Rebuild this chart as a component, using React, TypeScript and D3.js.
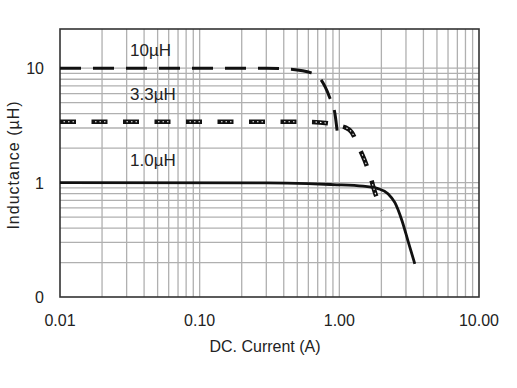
import * as d3 from "d3";
import { useEffect, useRef } from "react";

// DC current (A) vs inductance (µH)
const current10 = [0.01, 0.3, 0.44, 0.63, 0.74, 0.85, 0.93, 0.98];
const ind10 = [10, 10, 9.8, 9.1, 7.9, 5.6, 4.0, 2.35];

const current33 = [0.01, 0.58, 0.83, 0.96, 1.1, 1.23, 1.36, 1.52, 1.66, 1.8, 2.02];
const ind33 = [3.4, 3.4, 3.3, 3.16, 3.04, 2.74, 2.11, 1.56, 1.15, 0.82, 0.57];

const current10u = [0.01, 0.3, 0.6, 0.9, 1.48, 1.89, 2.23, 2.5, 2.81, 3.1, 3.47];
const ind10u = [1.0, 0.995, 0.98, 0.96, 0.93, 0.886, 0.8, 0.667, 0.464, 0.31, 0.195];

const xTicks = [0.01, 0.1, 1, 10];
const xTickLabels = ["0.01", "0.10", "1.00", "10.00"];
const yTicks = [0.1, 1, 10];
const yTickLabels = ["0", "1", "10"];

const seriesLabels = ["10µH", "3.3µH", "1.0µH"];

const W = 517;
const H = 388;
const FONT = "'Liberation Sans', Arial, sans-serif";

export default function App() {
  const svgRef = useRef<SVGSVGElement>(null);

  useEffect(() => {
    document.body.style.margin = "0";
    if (!svgRef.current) return;
    const svg = d3.select(svgRef.current);
    svg.selectAll("*").remove();

    const margin = { top: 29, right: 38, bottom: 91, left: 60 };
    const x = d3.scaleLog().domain([0.01, 10]).range([margin.left, W - margin.right]);
    const y = d3.scaleLog().domain([0.1, 22]).range([H - margin.bottom, margin.top]);

    // Grid
    const xGrid: number[] = [];
    for (const dec of [0.01, 0.1, 1]) for (let k = 1; k <= 9; k++) xGrid.push(dec * k);
    const yGrid: number[] = [];
    for (const dec of [0.1, 1]) for (let k = 1; k <= 9; k++) yGrid.push(dec * k);
    yGrid.push(10);

    const grid = svg.append("g").style("stroke", "#b0b0b0").style("stroke-width", 1.3);
    grid
      .selectAll("line.v")
      .data(xGrid.slice(1))
      .join("line")
      .attr("x1", (d) => x(d))
      .attr("x2", (d) => x(d))
      .attr("y1", y(22))
      .attr("y2", y(0.1));
    grid
      .selectAll("line.h")
      .data(yGrid.slice(1))
      .join("line")
      .attr("x1", x(0.01))
      .attr("x2", x(10))
      .attr("y1", (d) => y(d))
      .attr("y2", (d) => y(d));

    // Border
    svg
      .append("rect")
      .attr("x", x(0.01))
      .attr("y", y(22))
      .attr("width", x(10) - x(0.01))
      .attr("height", y(0.1) - y(22))
      .style("fill", "none")
      .style("stroke", "#333")
      .style("stroke-width", 1.6);

    const line = d3
      .line<[number, number]>()
      .x((d) => x(d[0]))
      .y((d) => y(d[1]))
      .curve(d3.curveMonotoneX);

    const pts = (xs: number[], ys: number[]) => xs.map((v, i) => [v, ys[i]] as [number, number]);

    // 1.0µH solid
    svg
      .append("path")
      .attr("d", line(pts(current10u, ind10u)))
      .style("fill", "none")
      .style("stroke", "#111")
      .style("stroke-width", 2.8);

    // 3.3µH round-dot dashes
    const d33 = line(pts(current33, ind33));
    svg
      .append("path")
      .attr("d", d33)
      .style("fill", "none")
      .style("stroke", "#111")
      .style("stroke-width", 4.5)
      .style("stroke-dasharray", "16,15.5");
    svg
      .append("path")
      .attr("d", d33)
      .style("fill", "none")
      .style("stroke", "#fff")
      .style("stroke-width", 1.1)
      .style("stroke-dasharray", "0,3.5,1.5,3,1.5,3,1.5,17.5");

    // 10µH long dash
    svg
      .append("path")
      .attr("d", line(pts(current10, ind10)))
      .style("fill", "none")
      .style("stroke", "#111")
      .style("stroke-width", 3)
      .style("stroke-dasharray", "21,12");

    // Series labels
    const labelPos = [56, 100, 166];
    seriesLabels.forEach((t, i) => {
      svg
        .append("text")
        .attr("x", 130)
        .attr("y", labelPos[i])
        .style("font-family", FONT)
        .style("font-size", "17px")
        .style("fill", "#222")
        .text(t);
    });

    // Tick labels
    xTicks.forEach((v, i) => {
      svg
        .append("text")
        .attr("x", x(v))
        .attr("y", 326)
        .attr("text-anchor", "middle")
        .style("font-family", FONT)
        .style("font-size", "16px")
        .style("fill", "#222")
        .text(xTickLabels[i]);
    });
    yTicks.forEach((v, i) => {
      svg
        .append("text")
        .attr("x", 44)
        .attr("y", y(v) + 6)
        .attr("text-anchor", "end")
        .style("font-family", FONT)
        .style("font-size", "16px")
        .style("fill", "#222")
        .text(yTickLabels[i]);
    });

    // Axis titles
    svg
      .append("text")
      .attr("x", 265)
      .attr("y", 352)
      .attr("text-anchor", "middle")
      .style("font-family", FONT)
      .style("font-size", "16px")
      .style("fill", "#222")
      .text("DC. Current (A)");
    svg
      .append("text")
      .attr("transform", "rotate(-90)")
      .attr("x", -165)
      .attr("y", 19)
      .attr("text-anchor", "middle")
      .style("font-family", FONT)
      .style("font-size", "16px")
      .style("letter-spacing", "1px")
      .style("fill", "#222")
      .text("Inductance (µH)");
  }, []);

  return <svg ref={svgRef} width={W} height={H} style={{ display: "block", background: "#fff" }} />;
}
